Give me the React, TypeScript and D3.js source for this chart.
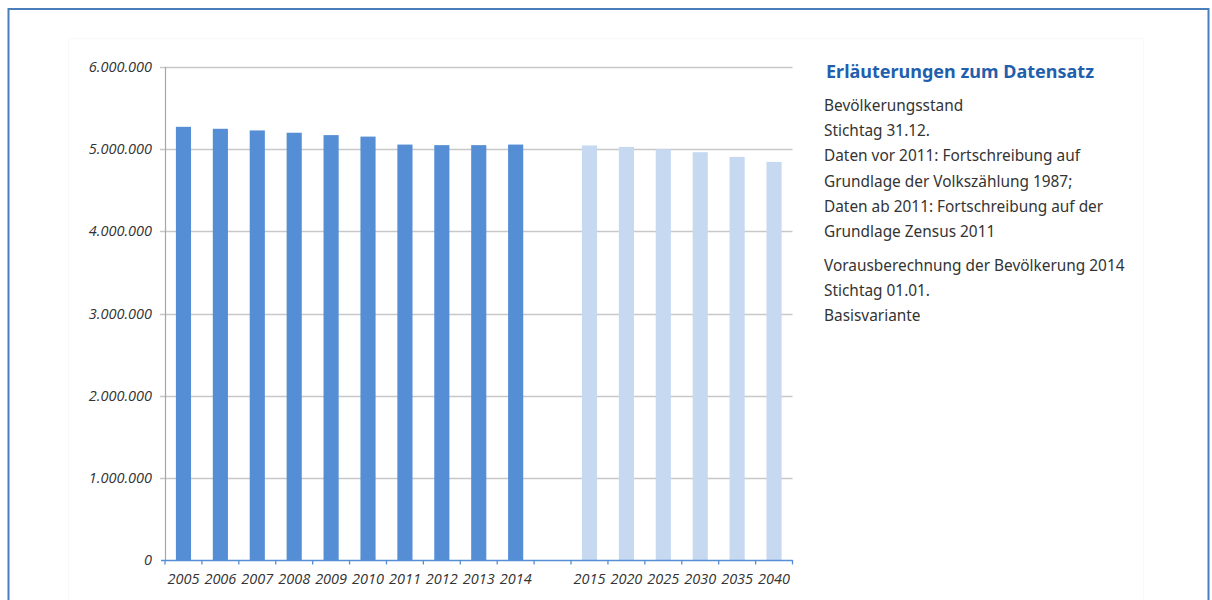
import React from "react";
import * as d3 from "d3";

const histYears = ["2005", "2006", "2007", "2008", "2009", "2010", "2011", "2012", "2013", "2014"];
const histValues = [5272000, 5248000, 5228000, 5200000, 5171000, 5153000, 5056000, 5049000, 5049000, 5056000];
const projYears = ["2015", "2020", "2025", "2030", "2035", "2040"];
const projValues = [5045000, 5028000, 5000000, 4963000, 4906000, 4845000];
const yTicks = [0, 1000000, 2000000, 3000000, 4000000, 5000000, 6000000];

const noteTitle = "Erläuterungen zum Datensatz";
const noteBlock1 = [
  "Bevölkerungsstand",
  "Stichtag 31.12.",
  "Daten vor 2011: Fortschreibung auf",
  "Grundlage der Volkszählung 1987;",
  "Daten ab 2011: Fortschreibung auf der",
  "Grundlage Zensus 2011",
];
const noteBlock2 = ["Vorausberechnung der Bevölkerung 2014", "Stichtag 01.01.", "Basisvariante"];

const GAP = "__gap__";

export default function App() {
  const W = 1212;
  const H = 600;
  const left = 165;
  const right = 792.5;
  const top = 67;
  const bottom = 560;

  const domain = [...histYears, GAP, ...projYears];
  const x = d3.scaleBand<string>().domain(domain).range([left, right]).paddingInner(0.59).paddingOuter(0.295);
  const y = d3.scaleLinear().domain([0, 6000000]).range([bottom, top]);
  const de = d3.formatLocale({ decimal: ",", thousands: ".", grouping: [3], currency: ["", "€"] });
  const fmt = de.format(",.0f");
  const step = (right - left) / domain.length;

  const labelFont = "'Open Sans', 'Noto Sans', sans-serif";
  const textColor = "#333333";

  return (
    <svg width={W} height={H} style={{ position: "absolute", left: 0, top: 0 }}>
      <rect x={0} y={0} width={W} height={H} fill="#ffffff" />
      {/* outer frame */}
      <rect x={8.5} y={9} width={1200} height={620} fill="none" stroke="#4a7ebb" strokeWidth={2} />
      {/* faint chart area */}
      <rect x={68.5} y={38.5} width={1075} height={600} fill="none" stroke="#f9f9f9" strokeWidth={1} />

      {/* gridlines */}
      {yTicks.map((t) => (
        <line key={"g" + t} x1={left - 5} x2={right} y1={Math.round(y(t)) + 0.5} y2={Math.round(y(t)) + 0.5}
          stroke={t === 0 ? "none" : "#c8c8c8"} strokeWidth={1.3} />
      ))}
      {/* y axis */}
      <line x1={left + 0.5} x2={left + 0.5} y1={top} y2={bottom} stroke="#a6a6a6" strokeWidth={1.2} />
      {yTicks.map((t) => (
        <text key={"yl" + t} x={152} y={y(t) + 5} textAnchor="end" fontFamily={labelFont} fontStyle="italic"
          fontSize={14.5} fill={textColor}>
          {fmt(t)}
        </text>
      ))}

      {/* bars */}
      {histYears.map((yr, i) => (
        <rect key={"h" + yr} x={x(yr)!} y={y(histValues[i])} width={x.bandwidth()} height={bottom - y(histValues[i])}
          fill="#558ed5" />
      ))}
      {projYears.map((yr, i) => (
        <rect key={"p" + yr} x={x(yr)!} y={y(projValues[i])} width={x.bandwidth()} height={bottom - y(projValues[i])}
          fill="#c6d9f1" />
      ))}

      {/* x axis */}
      <line x1={left - 4} x2={right} y1={bottom + 0.5} y2={bottom + 0.5} stroke="#558ed5" strokeWidth={1.5} />
      {d3.range(domain.length + 1).map((i) => (
        <line key={"xt" + i} x1={left + i * step} x2={left + i * step} y1={bottom} y2={bottom + 4.5}
          stroke="#558ed5" strokeWidth={1.3} />
      ))}
      {domain.filter((d) => d !== GAP).map((d) => (
        <text key={"xl" + d} x={x(d)! + x.bandwidth() / 2} y={584} textAnchor="middle" fontFamily={labelFont}
          fontStyle="italic" fontSize={14.5} fill={textColor}>
          {d}
        </text>
      ))}

      {/* notes */}
      <text x={826} y={78} fontFamily="'Noto Sans', 'Open Sans', sans-serif" fontWeight="bold" fontSize={18}
        fill="#1f5fae">
        {noteTitle}
      </text>
      {noteBlock1.map((s, i) => (
        <text key={"n1" + i} x={824} y={111 + i * 25.2} fontFamily="'Noto Sans', sans-serif" fontSize={15.4}
          fill={textColor}>
          {s}
        </text>
      ))}
      {noteBlock2.map((s, i) => (
        <text key={"n2" + i} x={824} y={271 + i * 25} fontFamily="'Noto Sans', sans-serif" fontSize={15.4}
          fill={textColor}>
          {s}
        </text>
      ))}
    </svg>
  );
}
